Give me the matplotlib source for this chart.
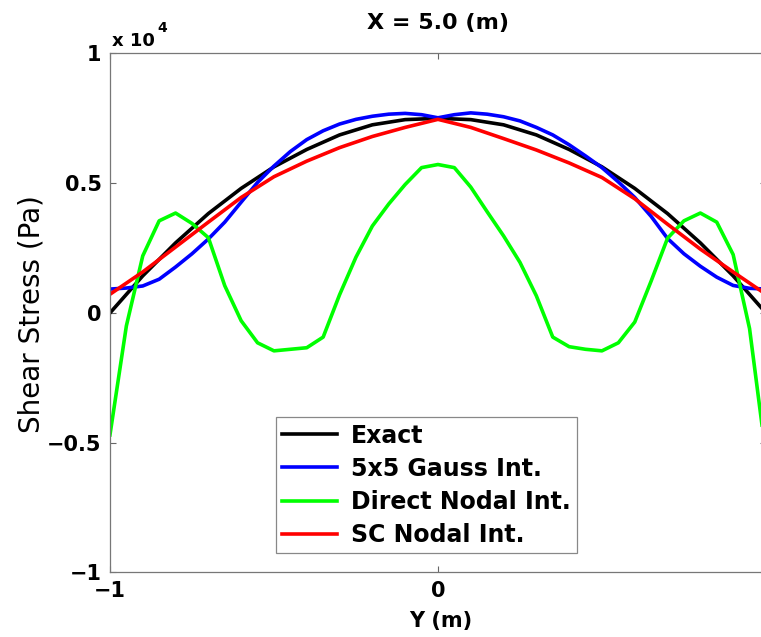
import numpy as np
import matplotlib
matplotlib.use("Agg")
import matplotlib.pyplot as plt

# Y positions (m) and shear stress (x 10^4 Pa)
y_exact = [-1.0, -0.9, -0.8, -0.7, -0.6, -0.5, -0.4, -0.3, -0.2, -0.1, 0.0,
           0.1, 0.2, 0.3, 0.4, 0.5, 0.6, 0.7, 0.8, 0.9, 1.0]
exact = [0.0, 0.143, 0.27, 0.383, 0.48, 0.563, 0.63, 0.686, 0.725, 0.745, 0.75,
         0.745, 0.725, 0.686, 0.63, 0.563, 0.48, 0.383, 0.27, 0.143, 0.0]

y_fine = [-1.0, -0.95, -0.9, -0.85, -0.8, -0.75, -0.7, -0.65, -0.6, -0.55, -0.5,
          -0.45, -0.4, -0.35, -0.3, -0.25, -0.2, -0.15, -0.1, -0.05, 0.0,
          0.05, 0.1, 0.15, 0.2, 0.25, 0.3, 0.35, 0.4, 0.45, 0.5,
          0.55, 0.6, 0.65, 0.7, 0.75, 0.8, 0.85, 0.9, 0.95, 1.0]
gauss = [0.092, 0.096, 0.104, 0.130, 0.177, 0.228, 0.285, 0.350, 0.427, 0.503, 0.566,
         0.622, 0.668, 0.702, 0.728, 0.746, 0.758, 0.766, 0.769, 0.764, 0.752,
         0.764, 0.771, 0.766, 0.756, 0.740, 0.715, 0.686, 0.648, 0.605, 0.560,
         0.505, 0.445, 0.372, 0.287, 0.228, 0.180, 0.138, 0.106, 0.095, 0.092]
direct = [-0.47, -0.05, 0.22, 0.355, 0.385, 0.345, 0.29, 0.105, -0.03, -0.115, -0.146,
          -0.14, -0.134, -0.093, 0.07, 0.215, 0.335, 0.42, 0.495, 0.56, 0.572,
          0.56, 0.485, 0.39, 0.297, 0.195, 0.066, -0.093, -0.13, -0.14, -0.146,
          -0.115, -0.035, 0.123, 0.288, 0.355, 0.385, 0.35, 0.225, -0.06, -0.55]

sc_nodal = [0.072, 0.158, 0.254, 0.35, 0.445, 0.525, 0.585, 0.637, 0.68, 0.715, 0.746,
            0.715, 0.672, 0.628, 0.578, 0.522, 0.44, 0.342, 0.246, 0.158, 0.072]

labels = ["Exact", "5x5 Gauss Int.", "Direct Nodal Int.", "SC Nodal Int."]

plt.rcParams['font.family'] = ['DejaVu Sans']

fig = plt.figure(figsize=(7.61, 6.37), dpi=100)
# axes run a little past the right edge, as in the original
ax = fig.add_axes([0.1445, 0.1013, 0.862, 0.8148])

lw = 2.6
ax.plot(y_exact, exact, color=(0, 0, 0), lw=lw, label=labels[0])
ax.plot(y_fine, gauss, color=(0, 0, 1), lw=lw, label=labels[1])
ax.plot(y_fine, direct, color=(0, 1, 0), lw=lw, label=labels[2])
ax.plot(y_exact, sc_nodal, color=(1, 0, 0), lw=lw, label=labels[3])

ax.set_xlim(-1, 1)
ax.set_ylim(-1, 1)
ax.set_xticks([-1, 0, 1])
ax.set_yticks([-1, -0.5, 0, 0.5, 1])
ax.set_yticklabels(["\u22121", "\u22120.5", "0", "0.5", "1"])
ax.set_xticklabels(["\u22121", "0", "1"])
ax.tick_params(direction='in', length=4, width=0.8, color='#666666',
               top=True, right=True, labelsize=15, pad=6)
for t in ax.get_xticklabels() + ax.get_yticklabels():
    t.set_fontweight('bold')
for s in ax.spines.values():
    s.set_color('#777777')
    s.set_linewidth(0.9)

leg = ax.legend(loc='lower left', bbox_to_anchor=(0.253, 0.037),
                prop={'weight': 'bold', 'size': 17}, frameon=True, fancybox=False,
                edgecolor='#888888', framealpha=1, borderpad=0.27,
                labelspacing=0.385, handlelength=2.3, handletextpad=0.6,
                borderaxespad=0)
leg.get_frame().set_linewidth(0.9)

fig.text(438 / 761, 1 - 23 / 637, "X = 5.0 (m)", ha='center', va='center',
         fontsize=16, fontweight='bold')
fig.text(112 / 761, 1 - 41 / 637, "x 10", ha='left', va='center',
         fontsize=13, fontweight='bold')
fig.text(157 / 761, 1 - 28 / 637, "4", ha='left', va='center',
         fontsize=10, fontweight='bold')
fig.text(32 / 761, 1 - 314 / 637, "Shear Stress (Pa)", ha='center', va='center',
         rotation=90, fontsize=20)
fig.text(441 / 761, 1 - 621 / 637, "Y (m)", ha='center', va='center',
         fontsize=15, fontweight='bold')

fig.savefig("out.png", dpi=100)
